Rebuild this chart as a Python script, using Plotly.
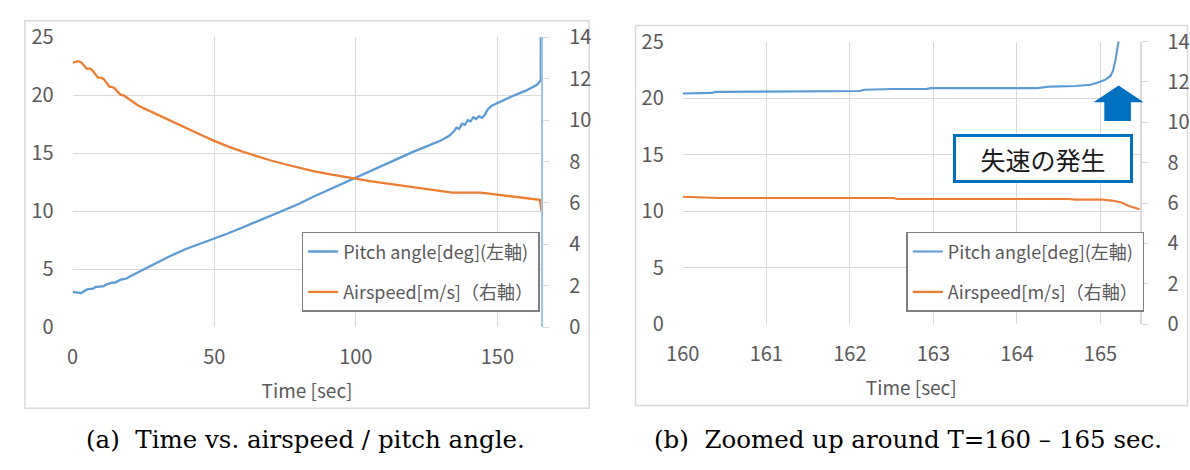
import plotly.graph_objects as go

# ---- (a) full run ----------------------------------------------------------
t_pitch_full = [0, 1, 2, 3, 4, 5, 6, 7, 8, 9, 10, 11, 12, 13, 14, 15, 16, 17, 18, 19,
                20, 22, 24, 26, 28, 30, 32.5, 35, 40, 45, 50, 55, 60, 65, 70, 75, 80,
                85, 90, 95, 100, 105, 110, 115, 120, 125, 130, 133, 134.5, 135.5, 136.5,
                137.5, 138.5, 139.5, 140.5, 141.5, 142.5, 143.5, 144.5, 145.5, 146.5,
                148, 150, 155, 160, 164, 165, 165.3, 165.4]
pitch_full = [3.05, 3.0, 2.95, 2.95, 3.1, 3.25, 3.3, 3.3, 3.45, 3.5, 3.55, 3.55, 3.7, 3.8,
              3.85, 3.85, 4.0, 4.1, 4.15, 4.2, 4.35, 4.6, 4.85, 5.05, 5.35, 5.6, 5.9,
              6.2, 6.75, 7.2, 7.6, 8.1, 8.6, 9.1, 9.6, 10.1, 10.65, 11.25, 11.8, 12.35,
              12.9, 13.45, 14.0, 14.6, 15.1, 15.6, 16.1, 16.5, 16.85, 17.2, 17.1, 17.55,
              17.45, 17.85, 17.75, 18.1, 17.95, 18.2, 18.05, 18.3, 18.75, 19.1, 19.35,
              19.9, 20.4, 20.9, 21.2, 21.3, 30.0]

t_air_full = [0, 1, 2, 3, 4, 5, 6, 7, 8, 9, 10, 11, 12, 13, 14, 15, 16, 17, 18, 19, 21,
              23, 25, 27, 30, 34, 38, 42, 46, 50, 55, 60, 65, 70, 75, 80, 85, 90, 95,
              100, 105, 110, 115, 120, 125, 130, 134, 140, 144, 147, 150, 155, 160, 164,
              165, 165.3, 165.5]
air_full = [12.78, 12.8, 12.85, 12.8, 12.62, 12.48, 12.5, 12.4, 12.22, 12.05, 12.05, 11.98,
            11.8, 11.62, 11.6, 11.52, 11.35, 11.22, 11.2, 11.1, 10.9, 10.72, 10.58, 10.45,
            10.25, 10.0, 9.75, 9.5, 9.25, 9.0, 8.72, 8.48, 8.25, 8.05, 7.87, 7.7, 7.54,
            7.4, 7.28, 7.17, 7.06, 6.96, 6.86, 6.76, 6.66, 6.57, 6.5, 6.5, 6.5, 6.45,
            6.4, 6.32, 6.25, 6.18, 6.15, 5.9, 5.62]

# ---- (b) close-up around the stall ----------------------------------------
t_pitch_zoom = [160.0, 160.35, 160.39, 160.79, 160.88, 162.12, 162.17, 162.48, 162.52,
                162.92, 162.97, 164.25, 164.39, 164.7, 164.88, 164.96, 165.05, 165.12,
                165.15, 165.18, 165.2, 165.22, 165.26]
pitch_zoom = [20.41, 20.46, 20.55, 20.57, 20.63, 20.63, 20.74, 20.74, 20.8, 20.82, 20.88,
              20.88, 21.02, 21.07, 21.18, 21.35, 21.6, 21.96, 22.43, 23.4, 24.5, 25.2, 30.0]

t_air_zoom = [160.0, 160.35, 160.44, 162.52, 162.57, 164.61, 164.7, 165.01, 165.14,
              165.25, 165.34, 165.47]
air_zoom = [6.31, 6.28, 6.25, 6.25, 6.2, 6.2, 6.17, 6.17, 6.12, 6.02, 5.85, 5.69]

# ---- labels and ticks -------------------------------------------------------
pitch_name = "Pitch angle[deg](左軸)"
air_name = "Airspeed[m/s]（右軸）"
x_title = "Time [sec]"
x_ticks_full = [0, 50, 100, 150]
x_ticks_zoom = [160, 161, 162, 163, 164, 165]
left_ticks = [0, 5, 10, 15, 20, 25]
right_ticks = [0, 2, 4, 6, 8, 10, 12, 14]
captions = ["(a)  Time vs. airspeed / pitch angle.",
            "(b)  Zoomed up around T=160 – 165 sec."]
stall_label = "失速の発生"

# ---- styling ---------------------------------------------------------------
W, H = 1190, 470
BLUE = "#5B9BD5"
ORANGE = "#ED7D31"
GRID = "#D9D9D9"
TXT = "#595959"
FONT = "Noto Sans CJK JP"


def px(x):
    return x / W


def py(y):
    return 1 - y / H


fig = go.Figure()

fig.add_trace(go.Scatter(x=t_pitch_full, y=pitch_full, name=pitch_name, mode="lines",
                         line=dict(color=BLUE, width=2.3), xaxis="x", yaxis="y",
                         legend="legend", legendgroup="a1"))
fig.add_trace(go.Scatter(x=t_air_full, y=air_full, name=air_name, mode="lines",
                         line=dict(color=ORANGE, width=2.3), xaxis="x", yaxis="y2",
                         legend="legend", legendgroup="a2"))
fig.add_trace(go.Scatter(x=t_pitch_zoom, y=pitch_zoom, name=pitch_name, mode="lines",
                         line=dict(color=BLUE, width=2.1), xaxis="x2", yaxis="y3",
                         legend="legend2", legendgroup="b1"))
fig.add_trace(go.Scatter(x=t_air_zoom, y=air_zoom, name=air_name, mode="lines",
                         line=dict(color=ORANGE, width=2.1), xaxis="x2", yaxis="y4",
                         legend="legend2", legendgroup="b2"))

tick_font = dict(family=FONT, size=20, color=TXT)


def x_axis(domain, rng, ticks, anchor):
    return dict(domain=domain, range=rng, tickvals=ticks, showgrid=True, gridcolor=GRID,
                gridwidth=1, zeroline=False, showline=False, ticks="", anchor=anchor,
                tickfont=tick_font, ticklabelstandoff=16,
                title=dict(text=x_title, font=dict(family=FONT, size=19, color=TXT),
                           standoff=15))


def y_left(domain, anchor):
    return dict(domain=domain, range=[0, 25], tickvals=left_ticks, showgrid=True,
                gridcolor=GRID, gridwidth=1, zeroline=False, showline=False, ticks="",
                anchor=anchor, tickfont=tick_font, ticklabelstandoff=18)


def y_right(overlay, anchor, linecolor):
    return dict(overlaying=overlay, side="right", range=[0, 14], tickvals=right_ticks,
                showgrid=False, zeroline=False, showline=True, linecolor=linecolor,
                linewidth=1.5, ticks="outside", ticklen=6, tickcolor=GRID, tickwidth=1,
                anchor=anchor, tickfont=tick_font, ticklabelstandoff=16)


legend_style = dict(xanchor="left", yanchor="top", bordercolor="#7F7F7F", borderwidth=1.5,
                    bgcolor="white", font=dict(family=FONT, size=18, color=TXT),
                    itemwidth=30, tracegroupgap=14, traceorder="grouped")

# stall marker arrow (pixel outline of a block arrow pointing up)
arrow_pts = [(1104, 112), (1104, 92), (1093, 92), (1118.5, 74), (1144, 92), (1131, 92),
             (1131, 112)]
arrow_path = "M " + " L ".join(f"{px(x):.5f},{py(y):.5f}" for x, y in arrow_pts) + " Z"

caption_font = dict(family="DejaVu Serif", size=24.5, color="black")

fig.update_layout(
    width=W, height=H,
    margin=dict(l=0, r=0, t=0, b=0),
    paper_bgcolor="white", plot_bgcolor="white",
    font=dict(family=FONT, color=TXT),
    xaxis=x_axis([px(56.5), px(532.5)], [0, 165.55], x_ticks_full, "y"),
    yaxis=y_left([py(331.7), py(22.7)], "x"),
    yaxis2=y_right("y", "x", "#9DC3E6"),
    xaxis2=x_axis([px(676), px(1140)], [160, 165.47], x_ticks_zoom, "y3"),
    yaxis3=y_left([py(328.3), py(27.3)], "x2"),
    yaxis4=y_right("y3", "x2", GRID),
    legend=dict(x=px(289), y=py(230), **legend_style),
    legend2=dict(x=px(903), y=py(230), **legend_style),
    shapes=[
        dict(type="rect", xref="paper", yref="paper", x0=px(8), x1=px(581), y0=py(418),
             y1=py(5), line=dict(color=GRID, width=1.5), layer="below"),
        dict(type="rect", xref="paper", yref="paper", x0=px(628), x1=px(1188.5),
             y0=py(415), y1=py(10), line=dict(color=GRID, width=1.5), layer="below"),
        dict(type="path", xref="paper", yref="paper", path=arrow_path,
             fillcolor="#0070C0", line=dict(width=0)),
    ],
    annotations=[
        dict(xref="paper", yref="paper", x=px(1042), y=py(151.5), text=stall_label,
             xanchor="center", yanchor="middle", showarrow=False,
             font=dict(family=FONT, size=25, color="#1A1A1A"),
             bordercolor="#0070C0", borderwidth=3, borderpad=1, bgcolor="white",
             width=172, height=41),
        dict(xref="paper", yref="paper", x=px(293), y=py(451), text=captions[0],
             xanchor="center", yanchor="middle", showarrow=False, font=caption_font),
        dict(xref="paper", yref="paper", x=px(905), y=py(451), text=captions[1],
             xanchor="center", yanchor="middle", showarrow=False, font=caption_font),
    ],
)

fig.write_html("out.html")
